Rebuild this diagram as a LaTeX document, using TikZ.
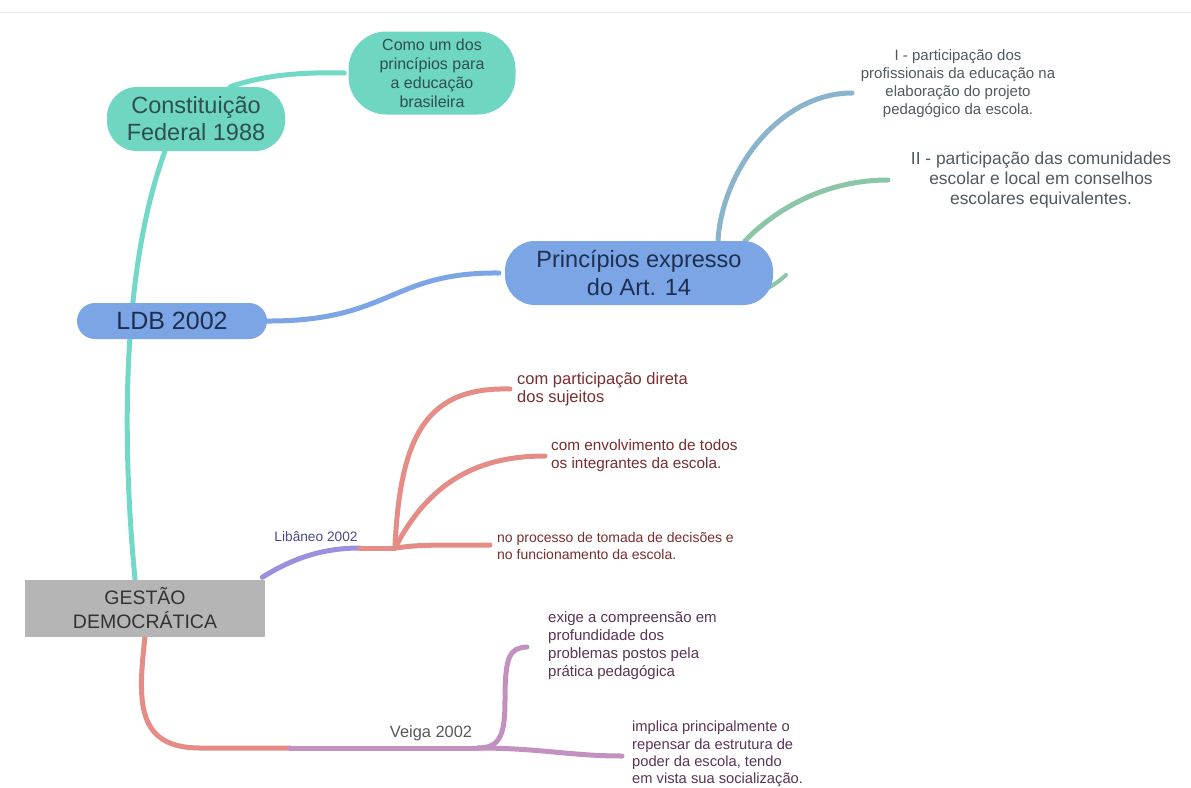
\documentclass[tikz,border=0pt]{standalone}
\usepackage{fontspec}
\setmainfont{Liberation Sans}
\usetikzlibrary{backgrounds}
\definecolor{tealF}{HTML}{6FD6C2}
\definecolor{tealL}{HTML}{72D9C8}
\definecolor{blueF}{HTML}{7CA5E6}
\definecolor{blueG}{HTML}{8AB4CC}
\definecolor{greenL}{HTML}{8CC6A8}
\definecolor{purpL}{HTML}{9B8FE0}
\definecolor{redL}{HTML}{E58C86}
\definecolor{pinkL}{HTML}{C391BF}
\definecolor{grayF}{HTML}{B5B5B5}
\definecolor{txtTeal}{HTML}{2F4F4F}
\definecolor{txtBlue}{HTML}{1E2F50}
\definecolor{txtGray}{HTML}{505A60}
\definecolor{txtRed}{HTML}{7A2E2E}
\definecolor{txtPurp}{HTML}{5A3555}
\definecolor{txtLib}{HTML}{4B4A8A}
\tikzset{
  x=1pt,y=-1pt,
  conn/.style={line width=5pt,line cap=round},
  pill/.style={rounded corners=#1,inner sep=0pt,align=center},
  leaf/.style={anchor=west,align=left,inner sep=0pt},
}
\newcommand{\fs}[2]{\fontsize{#1}{#2}\selectfont}
\begin{document}
\begin{tikzpicture}
\useasboundingbox (0,0) rectangle (1191,787);

% nodes
\node[pill=30pt,fill=tealF,minimum width=178pt,minimum height=64pt,text=txtTeal,font=\fs{23.5}{27}] (cf) at (196,119) {Constituição\\Federal 1988};
\node[pill=38pt,fill=tealF,minimum width=167pt,minimum height=83pt,text=txtTeal,font=\fs{16}{19}] (como) at (432,73) {Como um dos\\princípios para\\a educação\\brasileira};
\node[pill=18pt,fill=blueF,minimum width=190pt,minimum height=36pt,text=txtBlue,font=\fs{25}{28}] (ldb) at (172,321) {LDB 2002};
\node[pill=30pt,fill=blueF,minimum width=268pt,minimum height=64pt,text=txtBlue,font=\fs{23.5}{28}] (art) at (639,273) {Princípios expresso\\do Art. 14};
\node[fill=grayF,minimum width=240pt,minimum height=57pt,inner sep=0pt,align=center,text=black!80,font=\fs{19.5}{24}] (gd) at (145,608) {GESTÃO\\DEMOCRÁTICA};

\node[align=center,inner sep=0pt,text=txtGray,font=\fs{15}{18}] (t1) at (958,84) {I - participação dos\\profissionais da educação na\\elaboração do projeto\\pedagógico da escola.};
\node[align=center,inner sep=0pt,text=txtGray,font=\fs{17.4}{20}] (t2) at (1041,180) {II - participação das comunidades\\escolar e local em conselhos\\escolares equivalentes.};

\node[leaf,text=txtRed,font=\fs{16.5}{18}] (l1) at (517,389) {com participação direta\\dos sujeitos};
\node[leaf,text=txtRed,font=\fs{15.3}{18}] (l2) at (551,456) {com envolvimento de todos\\os integrantes da escola.};
\node[leaf,text=txtRed,font=\fs{14}{16.5}] (l3) at (497,546) {no processo de tomada de decisões e\\no funcionamento da escola.};
\node[leaf,text=txtPurp,font=\fs{15}{18}] (v1) at (548,646) {exige a compreensão em\\profundidade dos\\problemas postos pela\\prática pedagógica};
\node[leaf,text=txtPurp,font=\fs{14.7}{17.3}] (v2) at (632,754) {implica principalmente o\\repensar da estrutura de\\poder da escola, tendo\\em vista sua socialização.};

\node[inner sep=0pt,text=txtLib,font=\fs{13.7}{15}] (lib) at (316,537) {Libâneo 2002};
\node[inner sep=0pt,text=black!65,font=\fs{16.4}{18}] (veiga) at (431,733) {Veiga 2002};

\coordinate (libs) at (360,548);
\coordinate (libj) at (395,548);
\coordinate (vs) at (290,748);
\coordinate (vj) at (478,748);
\coordinate (t2e) at (888,180);

\begin{scope}[on background layer]
\fill[white] (0,0) rectangle (1191,787);
\draw[line width=1pt,color=black!8] (0,12) -- (1191,12);
\draw[conn,tealL] ([xshift=34pt]cf.north) .. controls (265,75) and (300,72) .. ([xshift=-4pt]como.west);
\draw[conn,tealL] ([xshift=-31pt]cf.south) .. controls (125,260) and (120,420) .. ([xshift=-10pt]gd.north);
\draw[conn,blueF] ([xshift=-2pt]ldb.east) .. controls (390,322) and (390,272) .. ([xshift=-6pt]art.west);
\draw[conn,blueG] ([xshift=79pt]art.north) .. controls (722,170) and (780,93) .. (852,93);
\draw[conn,greenL] ([xshift=106pt]art.north) .. controls (780,205) and (830,180) .. (t2e);
\draw[line width=4pt,greenL,line cap=round] (768,288) .. controls (778,282) .. (786,275);
\draw[conn,purpL] ([xshift=-3pt,yshift=2pt]gd.north east) .. controls (290,560) and (320,548) .. (libs);
\draw[conn,redL] (libs) -- (libj);
\draw[conn,redL] (libj) .. controls (400,430) and (430,387) .. ([xshift=-7pt]l1.west);
\draw[conn,redL] (libj) .. controls (430,480) and (480,456) .. ([xshift=-6pt]l2.west |- 0,456);
\draw[conn,redL] (libj) .. controls (420,545) .. ([xshift=-7pt]l3.west |- 0,545);
\draw[conn,redL] (gd.south) .. controls (138,700) and (135,748) .. (200,748) -- (vs);
\draw[conn,pinkL] (vs) -- (vj);
\draw[conn,pinkL] (vj) .. controls (500,748) and (505,735) .. (505,700) .. controls (505,655) and (510,648) .. ([xshift=-21pt]v1.west |- 0,647);
\draw[conn,pinkL] (vj) .. controls (540,748) and (570,756) .. ([xshift=-10pt]v2.west |- 0,756);
\end{scope}
\end{tikzpicture}
\end{document}
